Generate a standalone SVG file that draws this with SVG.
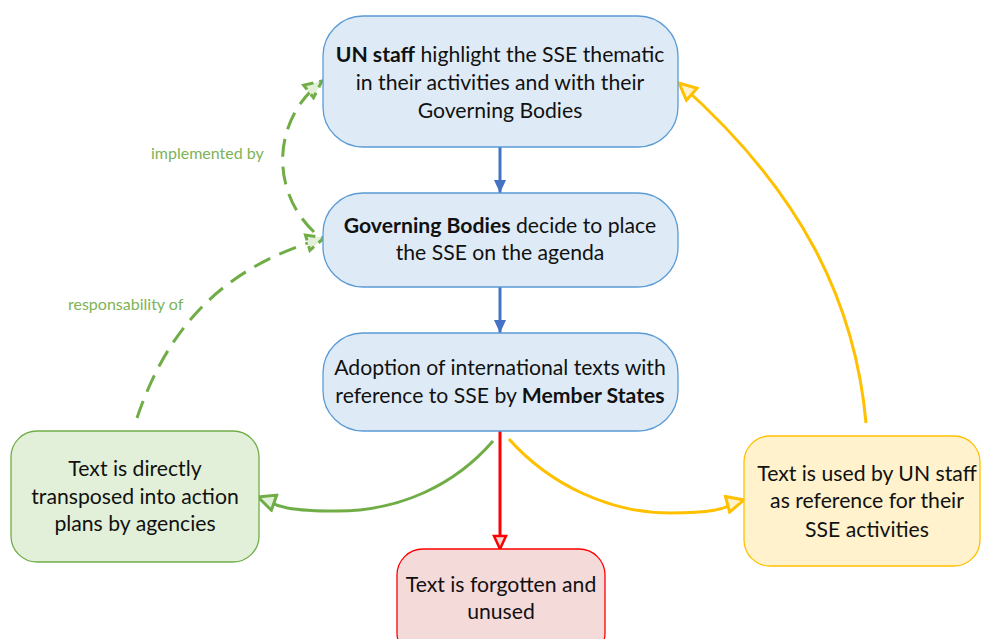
<svg xmlns="http://www.w3.org/2000/svg" width="981" height="639" viewBox="0 0 981 639">
<style>
  .t { font-family: Lato, "Liberation Sans", sans-serif; font-size: 21.2px; fill: #111; text-anchor: middle; }
  .b { font-weight: bold; }
  .lbl { font-family: Lato, "Liberation Sans", sans-serif; font-size: 16px; fill: #7DB356; }
  .blue { fill: #DEEBF7; stroke: #5B9BD5; stroke-width: 1.3; }
  .green { fill: #E2F0D9; stroke: #70AD47; stroke-width: 1.3; }
  .red { fill: #F5DADA; stroke: #FF0000; stroke-width: 1.3; }
  .yellow { fill: #FFF2CC; stroke: #FFC000; stroke-width: 1.3; }
  .c { fill: none; stroke-width: 3; }
</style>
<defs>
  <marker id="ab" markerUnits="userSpaceOnUse" viewBox="0 0 14 14" refX="13" refY="7" markerWidth="14" markerHeight="14" orient="auto">
    <path d="M0,1 L13,7 L0,13 z" fill="#4472C4"/>
  </marker>
  <marker id="ar" markerUnits="userSpaceOnUse" viewBox="0 0 18 16" refX="15" refY="8" markerWidth="18" markerHeight="16" orient="auto">
    <path d="M2,2 L15,8 L2,14 z" fill="#F5DADA" stroke="#FF0000" stroke-width="2.5"/>
  </marker>
  <marker id="ag" markerUnits="userSpaceOnUse" viewBox="0 0 22 20" refX="19" refY="10" markerWidth="22" markerHeight="20" orient="auto">
    <path d="M2,2 L19,10 L2,18 z" fill="#E2F0D9" stroke="#70AD47" stroke-width="3"/>
  </marker>
  <marker id="agd" markerUnits="userSpaceOnUse" viewBox="0 0 22 20" refX="19" refY="10" markerWidth="22" markerHeight="20" orient="auto">
    <path d="M2,2 L19,10 L2,18 z" fill="#E2F0D9" stroke="#70AD47" stroke-width="3" stroke-dasharray="10,6"/>
  </marker>
  <marker id="ay" markerUnits="userSpaceOnUse" viewBox="0 0 22 20" refX="19" refY="10" markerWidth="22" markerHeight="20" orient="auto">
    <path d="M2,2 L19,10 L2,18 z" fill="#FFF2CC" stroke="#FFC000" stroke-width="3"/>
  </marker>
</defs>

<g id="connectors">
  <line class="c" x1="500" y1="147" x2="500" y2="193" stroke="#4472C4" marker-end="url(#ab)"/>
  <line class="c" x1="500" y1="287" x2="500" y2="333" stroke="#4472C4" marker-end="url(#ab)"/>
  <line class="c" x1="500" y1="431" x2="500" y2="549" stroke="#FF0000" marker-end="url(#ar)"/>
  <path class="c" d="M493,441 C455,485 400,511 337,511 S275,503 258,497" stroke="#70AD47" marker-end="url(#ag)"/>
  <path class="c" d="M509,439 C550,485 610,513 670,513 S725,505 744,500" stroke="#FFC000" marker-end="url(#ay)"/>
  <path class="c" d="M866,423 C855,300 800,190 679,83" stroke="#FFC000" marker-end="url(#ay)"/>
  <path class="c" d="M314,232 C270,190 272,120 322,81" stroke="#70AD47" stroke-dasharray="18,10" marker-end="url(#agd)"/>
  <path class="c" d="M137,418 C170,320 230,265 324,238" stroke="#70AD47" stroke-dasharray="18,10" marker-end="url(#agd)"/>
  <text class="lbl" x="151" y="159">implemented by</text>
  <text class="lbl" x="68" y="310">responsability of</text>
</g>

<g id="n1">
  <rect class="blue" x="323" y="16" width="355" height="131" rx="40" ry="40"/>
  <text class="t" x="500" y="62"><tspan class="b">UN staff</tspan> highlight the SSE thematic</text>
  <text class="t" x="500" y="90">in their activities and with their</text>
  <text class="t" x="500" y="118">Governing Bodies</text>
</g>
<g id="n2">
  <rect class="blue" x="323" y="193" width="355" height="94" rx="40" ry="40"/>
  <text class="t" x="500" y="233"><tspan class="b">Governing Bodies</tspan> decide to place</text>
  <text class="t" x="500" y="260">the SSE on the agenda</text>
</g>
<g id="n3">
  <rect class="blue" x="323" y="333" width="355" height="98" rx="40" ry="40"/>
  <text class="t" x="500" y="375">Adoption of international texts with</text>
  <text class="t" x="500" y="403">reference to SSE by <tspan class="b">Member States</tspan></text>
</g>
<g id="n4">
  <rect class="green" x="11" y="431" width="248" height="131" rx="26" ry="26"/>
  <text class="t" x="135" y="476">Text is directly</text>
  <text class="t" x="135" y="504">transposed into action</text>
  <text class="t" x="135" y="531">plans by agencies</text>
</g>
<g id="n5">
  <rect class="red" x="397" y="549" width="208" height="110" rx="26" ry="26"/>
  <text class="t" x="501" y="592">Text is forgotten and</text>
  <text class="t" x="501" y="619">unused</text>
</g>
<g id="n6">
  <rect class="yellow" x="744" y="436" width="236" height="130" rx="26" ry="26"/>
  <text class="t" x="867" y="481">Text is used by UN staff</text>
  <text class="t" x="867" y="508">as reference for their</text>
  <text class="t" x="867" y="537">SSE activities</text>
</g>
</svg>
